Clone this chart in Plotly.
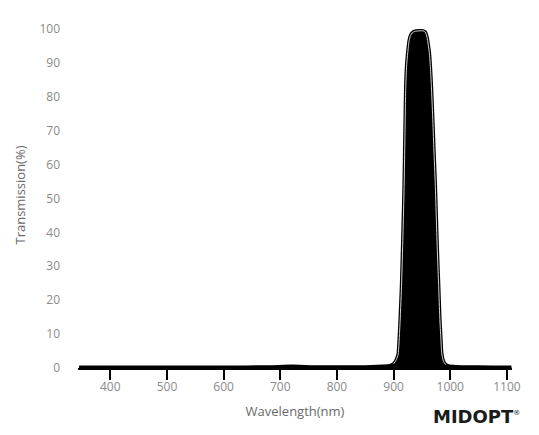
import plotly.graph_objects as go

wavelength = [345, 400, 500, 600, 680, 720, 760, 800, 850, 880, 890, 895, 900, 905, 908, 911, 914,
              916.5, 918.6, 920, 921.5, 923, 925, 927.5, 930, 933, 937, 945, 952, 956, 959, 961,
              963, 965, 966.7, 969, 971, 973.7, 976, 978, 979.6, 981.5, 983.5, 985, 988, 992, 997,
              1010, 1050, 1100, 1108]
transmission = [0.2, 0.2, 0.2, 0.2, 0.3, 0.5, 0.3, 0.3, 0.3, 0.5, 0.6, 0.8, 1.2, 2.5, 4, 12, 24,
                39, 53.5, 68, 83, 89, 93, 96.5, 98, 98.8, 99.2, 99.4, 99.4, 99.0, 97.5, 95.5,
                93, 88.5, 83, 74, 65, 53.5, 41, 31, 24, 15, 8.5, 4.3, 2, 1.0, 0.6,
                0.4, 0.3, 0.2, 0.2]

x_ticks = [400, 500, 600, 700, 800, 900, 1000, 1100]
y_ticks = [0, 10, 20, 30, 40, 50, 60, 70, 80, 90, 100]

peak = [(w, t) for w, t in zip(wavelength, transmission) if 898 <= w <= 995]

font = "Open Sans, Lato, sans-serif"
grey = "#8a8a8a"

fig = go.Figure()
fig.add_trace(go.Scatter(x=wavelength, y=transmission, mode="lines",
                         line=dict(color="black", width=3.5, shape="spline", smoothing=0.6),
                         fill="tozeroy", fillcolor="black", hoverinfo="skip"))
fig.add_trace(go.Scatter(x=[p[0] for p in peak], y=[p[1] for p in peak], mode="lines",
                         line=dict(color="rgba(235,235,235,0.9)", width=1, shape="spline", smoothing=0.6),
                         hoverinfo="skip"))

# page body has an 8px margin, so the figure is sized/offset to compensate
fig.update_layout(
    width=531, height=427,
    margin=dict(l=64, r=27, t=14, b=67),
    paper_bgcolor="white", plot_bgcolor="white",
    showlegend=False,
    font=dict(family=font, color=grey, size=12),
    xaxis=dict(range=[343, 1109], tickvals=x_ticks, showgrid=False, zeroline=False,
               showline=True, linecolor="black", linewidth=2,
               ticks="outside", ticklen=10, tickwidth=1.5, tickcolor="black",
               ticklabelstandoff=-3,
               tickfont=dict(size=12, color=grey, family=font),
               title=dict(text="Wavelength(nm)", font=dict(size=13, color="#6a6a6a", family=font), standoff=12)),
    yaxis=dict(range=[0, 102], tickvals=y_ticks, showgrid=False, zeroline=False, showline=False,
               ticks="", ticklabelstandoff=17,
               tickfont=dict(size=12, color=grey, family=font),
               title=dict(text="Transmission(%)", font=dict(size=13, color="#6a6a6a", family=font), standoff=10)),
)

fig.add_annotation(x=0.8136, y=-0.1416, xref="paper", yref="paper", xanchor="left", yanchor="middle",
                   text="<b>MIDOPT</b><sup><span style='font-size:7px'>®</span></sup>", showarrow=False,
                   font=dict(family="DejaVu Sans, sans-serif", size=18, color="#1a1a1a"))

fig.write_html("out.html")
